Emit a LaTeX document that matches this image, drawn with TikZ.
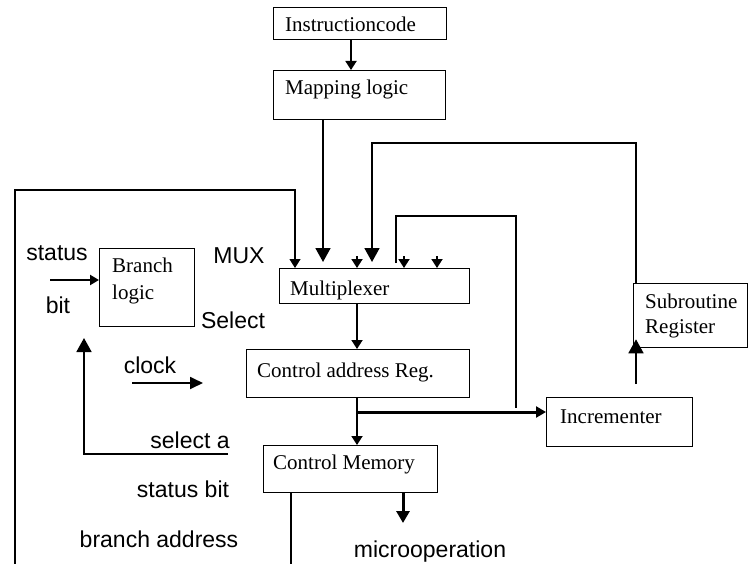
\documentclass[tikz,border=0pt]{standalone}
\usepackage{fontspec}
\setmainfont{Liberation Serif}
\newfontfamily\lab{Liberation Sans}
\usetikzlibrary{arrows.meta}
\begin{document}
\begin{tikzpicture}[x=1pt,y=-1pt,
 box/.style={draw, line width=1.3pt, inner sep=0pt, anchor=north west},
 btxt/.style={anchor=base west, inner sep=0pt, font=\fontsize{21}{25}\selectfont},
 ltxt/.style={anchor=base, inner sep=0pt, font=\lab\fontsize{23}{27}\selectfont},
 wire/.style={line width=1.8pt},
 thin/.style={line width=1.2pt},
 sarr/.style={-{Triangle[width=11pt,length=9pt]}},
 barr/.style={-{Triangle[width=15pt,length=14pt]}},
]
\useasboundingbox (0,0) rectangle (749,564);

% boxes
\node[box, minimum width=173pt, minimum height=32pt] (ic)  at (273,7)   {};
\node[box, minimum width=172pt, minimum height=49pt] (map) at (273,70)  {};
\node[box, minimum width=95pt,  minimum height=78pt] (br)  at (99,248)  {};
\node[box, minimum width=190pt, minimum height=35pt] (mux) at (279,268) {};
\node[box, minimum width=223pt, minimum height=48pt] (car) at (246,349) {};
\node[box, minimum width=174pt, minimum height=47pt] (cm)  at (263,445) {};
\node[box, minimum width=146pt, minimum height=49pt] (inc) at (546,397) {};
\node[box, minimum width=114pt, minimum height=64pt] (sub) at (633,283) {};

% box texts
\node[btxt] (t-ic)  at (285,32)  {Instructioncode};
\node[btxt] (t-map) at (285,95)  {Mapping logic};
\node[btxt] (t-br1) at (112,272) {Branch};
\node[btxt] (t-br2) at (112,299) {logic};
\node[btxt] (t-mux) at (290,295) {Multiplexer};
\node[btxt] (t-car) at (257,377) {Control address Reg.};
\node[btxt] (t-cm)  at (273,469) {Control Memory};
\node[btxt] (t-inc) at (560,423) {Incrementer};
\node[btxt] (t-sb1) at (645,308) {Subroutine};
\node[btxt] (t-sb2) at (645,333) {Register};

% labels
\node[ltxt] (l-status) at (57,260)  {status};
\node[ltxt] (l-bit)    at (58,313)  {bit};
\node[ltxt] (l-mux)    at (239,263) {MUX};
\node[ltxt] (l-sel)    at (233,328) {Select};
\node[ltxt] (l-clk)    at (150,373) {clock};
\node[ltxt] (l-sela)   at (190,448) {select a};
\node[ltxt] (l-sb)     at (183,497) {status bit};
\node[ltxt] (l-ba)     at (159,547) {branch address};
\node[ltxt] (l-mo)     at (430,557) {microoperation};

% coordinates
\coordinate (lp)  at (15,564);
\coordinate (lpc) at (15,190);
\coordinate (m1)  at (323,262);
\coordinate (m2)  at (372,262);
\coordinate (m2t) at (372,143);
\coordinate (s1)  at (357,256);
\coordinate (s2)  at (404,256);
\coordinate (s3)  at (437,256);
\coordinate (r1)  at (396,263);
\coordinate (r2)  at (516,216);
\coordinate (r3)  at (516,408);
\coordinate (j)   at (357,412);
\coordinate (mo)  at (403,523);
\coordinate (cmd) at (291,564);
\coordinate (is1) at (636,384);
\coordinate (st)  at (50,280);
\coordinate (ck1) at (132,383);
\coordinate (ck2) at (203,383);
\coordinate (sa)  at (228,454);
\coordinate (sa2) at (84,338);

% connectors
\draw[wire, sarr] (ic.south -| 351,0) -- (map.north -| 351,0);
\draw[wire, barr] (map.south -| m1) -- (m1);
\draw[thin, sarr] (lp) -- (lpc) -| (mux.north -| 295,0);
\draw[wire, sarr] (s1) -- (mux.north -| s1);
\draw[wire, sarr] (s2) -- (mux.north -| s2);
\draw[wire, sarr] (s3) -- (mux.north -| s3);
\draw[wire, barr] (sub.north -| is1) |- (m2t) -- (m2);
\draw[wire] (r1) |- (r2) -- (r3);
\draw[wire, sarr] (mux.south -| 357,0) -- (car.north -| 357,0);
\draw[wire, sarr] (car.south -| 357,0) -- (cm.north -| 357,0);
\draw[line width=3pt, -{Triangle[width=11pt,length=10pt]}] (j) -- (inc.west |- j);
\draw[line width=3pt, -{Triangle[width=13pt,length=12pt]}] (cm.south -| mo) -- (mo);
\draw[wire] (cm.south -| cmd) -- (cmd);
\draw[wire, barr, shorten >=-9pt] (is1) -- (sub.south -| is1);
\draw[line width=2.5pt, -{Triangle[width=10pt,length=9pt]}] (st) -- (br.west |- st);
\draw[wire, -{Triangle[width=12pt,length=13pt]}] (ck1) -- (ck2);
\draw[wire, barr] (sa) -| (sa2);
\end{tikzpicture}
\end{document}
